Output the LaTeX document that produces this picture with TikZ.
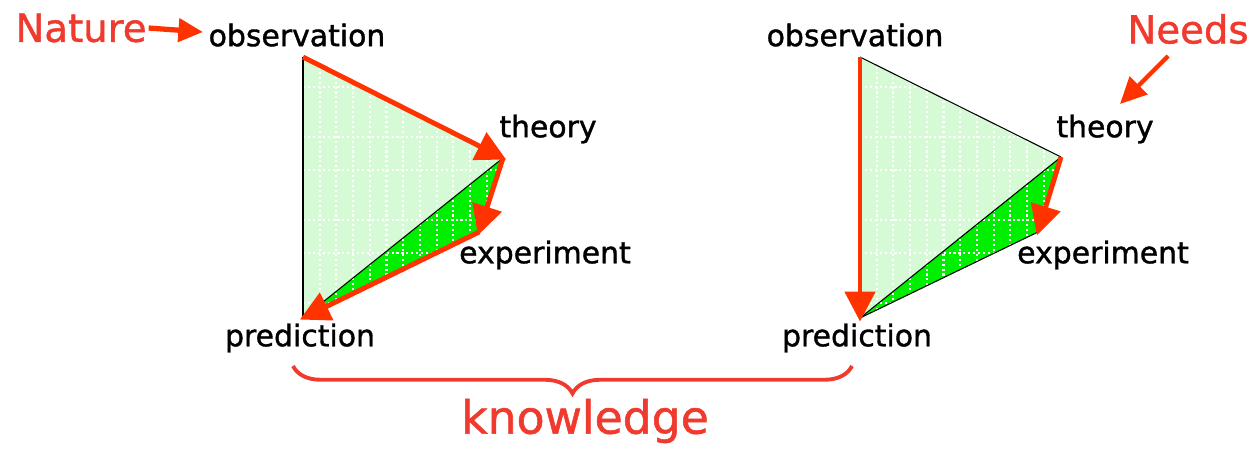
\documentclass[tikz,border=0pt]{standalone}
\usepackage{fontspec}
\setmainfont{DejaVu Sans}[FakeBold=1.2]
\usetikzlibrary{arrows.meta,decorations.pathreplacing,calc}
\definecolor{arrred}{RGB}{255,51,0}
\definecolor{txtred}{RGB}{240,58,46}
\definecolor{lgreen}{RGB}{214,250,214}
\definecolor{dgreen}{RGB}{0,238,0}
\tikzset{
  lbl/.style={font=\fontsize{17}{19}\selectfont, text=black, inner sep=0pt},
  redlbl/.style={font=\fontsize{22}{24}\selectfont, text=txtred, inner sep=0pt},
  redarrow/.style={draw=arrred, line width=2.8pt, -{Triangle[length=17pt,width=17pt]}, shorten >=-2pt},
  edge/.style={draw=black, line width=0.6pt},
  gridline/.style={draw=white, line width=1.2pt, dash pattern=on 1.2pt off 1.6pt},
}
\newcommand{\triangleblock}[4]{%
  \fill[lgreen] #1 -- #2 -- #4 -- cycle;
  \fill[dgreen] #2 -- #3 -- #4 -- cycle;
  \begin{scope}
    \clip #1 -- #2 -- #3 -- #4 -- cycle;
    \foreach \dx in {16.7,33.4,...,220} { \draw[gridline] ($#1+(\dx,0)$) -- ++(0,270); }
    \foreach \dy in {30,80,113,163,196,246} { \draw[gridline] ($#1+(0,\dy)$) -- ++(220,0); }
  \end{scope}
}
\begin{document}
\begin{tikzpicture}[x=0.02cm,y=-0.02cm]
\useasboundingbox (0,0) rectangle (1257,451);
\fill[white] (0,0) rectangle (1257,451);
% vertices
\coordinate (O1) at (303,57);
\coordinate (T1) at (503,158);
\coordinate (E1) at (479,232);
\coordinate (P1) at (303,318);
\coordinate (O2) at (860,57);
\coordinate (T2) at (1061,157);
\coordinate (E2) at (1038,232);
\coordinate (P2) at (860,318);
% fills and grids
\triangleblock{(O1)}{(T1)}{(E1)}{(P1)}
\triangleblock{(O2)}{(T2)}{(E2)}{(P2)}
% outlines
\draw[edge] (O1) -- (P1);
\draw[edge] (T1) -- (P1);
\draw[edge] (O2) -- (T2);
\draw[edge] (T2) -- (P2);
\draw[edge] (E2) -- (P2);
% red arrows
\draw[redarrow] (O1) -- (T1);
\draw[redarrow] (T1) -- (E1);
\draw[redarrow] (E1) -- (P1);
\draw[redarrow] (O2) -- (P2);
\draw[redarrow] (T2) -- (E2);
% labels
\node[lbl] (obs1) at (297,35) {observation};
\node[lbl] (th1) at (548,129) {theory};
\node[lbl] (ex1) at (545,255) {experiment};
\node[lbl] (pr1) at (300,338) {prediction};
\node[lbl] (obs2) at (855,35) {observation};
\node[lbl] (th2) at (1105,129) {theory};
\node[lbl] (ex2) at (1103,255) {experiment};
\node[lbl] (pr2) at (857,338) {prediction};
\node[redlbl] (nat) at (81,28) {Nature};
\node[redlbl] (needs) at (1188,29) {Needs};
\coordinate (natend) at (203,32);
\draw[draw=arrred, line width=3pt, -{Triangle[length=14pt,width=13pt]}] (nat.east) ++(1pt,0) coordinate (natstart) -- (natend);
\coordinate (needsA) at (1168,56);
\coordinate (needsB) at (1120,104);
\draw[draw=arrred, line width=2.4pt, -{Triangle[length=15pt,width=14pt]}] (needsA) -- (needsB);
% brace
\coordinate (brL) at (293,366);
\coordinate (brR) at (852,366);
\draw[draw=txtred, line width=2.2pt, decorate, decoration={brace, mirror, amplitude=0.55cm}] (brL) -- (brR);
\node[font=\fontsize{26}{30}\selectfont, text=txtred, inner sep=0pt] (know) at (585,421) {knowledge};
\end{tikzpicture}
\end{document}
